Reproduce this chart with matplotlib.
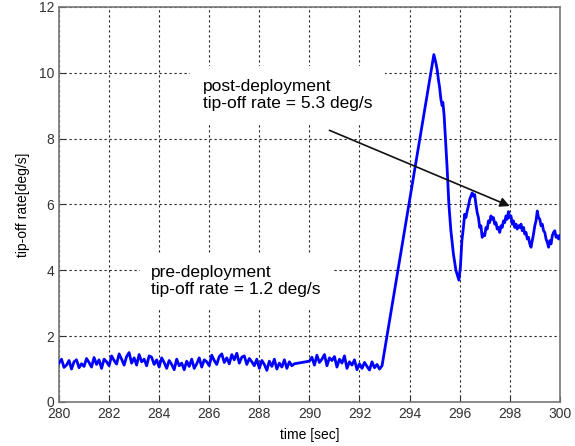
import numpy as np
import matplotlib.pyplot as plt

plt.rcParams['font.family'] = ['Liberation Sans', 'DejaVu Sans']

# pre-deployment samples, 0.1 s apart
pre_start = 280.0
pre_a = [1.18, 1.30, 1.05, 1.12, 1.26, 1.00, 1.22, 1.28, 1.04, 1.16,
         1.08, 1.32, 1.20, 1.06, 1.35, 1.14, 1.28, 1.02, 1.30, 1.22,
         1.10, 1.40, 1.26, 1.15, 1.46, 1.30, 1.12, 1.38, 1.50, 1.18,
         1.34, 1.12, 1.44, 1.22, 1.30, 1.10, 1.40, 1.36, 1.14, 1.28,
         1.06, 1.34, 1.20, 1.02, 1.26, 1.14, 0.98, 1.30, 1.10, 1.18,
         0.98, 1.24, 1.08, 1.30, 1.02, 1.16, 1.34, 1.06, 1.28, 1.22,
         1.10, 1.42, 1.26, 1.14, 1.38, 1.46, 1.20, 1.34, 1.16, 1.44,
         1.28, 1.48, 1.18, 1.36, 1.40, 1.14, 1.32, 1.22, 1.10, 1.30,
         1.02, 1.26, 1.14, 0.96, 1.24, 1.08, 1.30, 1.00, 1.18, 1.06,
         1.28, 1.02, 1.22, 1.10, 1.16]
pre_start2 = 290.0
pre_b = [1.24, 1.36, 1.12, 1.42, 1.20, 1.30, 1.44, 1.10, 1.34, 1.26,
         1.38, 1.06, 1.30, 1.18, 1.40, 1.02, 1.22, 1.12, 1.28, 0.98,
         1.16, 1.02, 1.20, 1.08, 0.97, 1.22, 1.04, 1.14, 1.00, 1.10]

# deployment and after (irregular points)
post_t = [294.97,
          295.05, 295.1, 295.15, 295.2, 295.25, 295.3, 295.33, 295.38, 295.45,
          295.5, 295.57, 295.65, 295.75, 295.85, 295.97, 296.03, 296.09,
          296.15, 296.2, 296.25, 296.3, 296.35, 296.4, 296.45,
          296.5, 296.55, 296.6, 296.65, 296.7, 296.75, 296.8, 296.85, 296.9,
          296.95, 297.0, 297.05, 297.1, 297.15, 297.2, 297.25, 297.3, 297.35,
          297.4, 297.45, 297.5, 297.55, 297.6, 297.65, 297.7, 297.75, 297.8,
          297.85, 297.9, 297.95, 298.0, 298.05, 298.1, 298.15, 298.2, 298.25,
          298.3, 298.35, 298.4, 298.45, 298.5, 298.55, 298.6, 298.65, 298.7,
          298.75, 298.8, 298.85, 298.9, 298.95, 299.0, 299.05, 299.1, 299.15,
          299.2, 299.25, 299.3, 299.35, 299.4, 299.45, 299.5, 299.55, 299.6,
          299.65, 299.7, 299.75, 299.8, 299.85, 299.9, 299.95, 300.0]
post_v = [10.55,
          10.3, 10.1, 9.8, 9.55, 9.2, 9.0, 9.1, 8.7, 7.8,
          7.1, 6.0, 5.2, 4.5, 4.0, 3.7, 4.1, 4.9,
          5.3, 5.7, 5.6, 5.8, 5.95, 6.15, 6.25,
          6.35, 6.25, 6.3, 6.0, 5.75, 5.6, 5.3, 5.35, 5.0,
          5.1, 5.05, 5.3, 5.25, 5.5, 5.45, 5.65, 5.55, 5.6,
          5.4, 5.45, 5.25, 5.3, 5.15, 5.35, 5.3, 5.5, 5.45,
          5.65, 5.55, 5.78, 5.6, 5.65, 5.4, 5.5, 5.3, 5.4,
          5.25, 5.35, 5.3, 5.4, 5.2, 5.3, 5.1, 5.15, 4.95,
          5.0, 4.8, 4.7, 4.9, 5.1, 5.35, 5.5, 5.8, 5.6,
          5.55, 5.35, 5.4, 5.2, 5.15, 4.95, 4.85, 4.7, 4.9,
          4.8, 5.05, 5.15, 5.2, 5.0, 5.05, 4.95, 5.05]

t = np.concatenate([pre_start + 0.1 * np.arange(len(pre_a)),
                    pre_start2 + 0.1 * np.arange(len(pre_b)),
                    post_t])
v = np.concatenate([pre_a, pre_b, post_v])

fig = plt.figure(figsize=(5.75, 4.46), dpi=100)
ax = fig.add_axes([0.1026, 0.0987, 0.871, 0.886])

ax.plot(t, v, color='#0000ff', lw=2, zorder=3)

ax.set_xlim(280, 300)
ax.set_ylim(0, 12)
ax.set_xticks(np.arange(280, 301, 2))
ax.set_yticks(np.arange(0, 13, 2))
ax.grid(True, color='#222222', linestyle=(0, (2, 2.5)), lw=0.8)
ax.tick_params(direction='in', length=4, labelsize=10, colors='#333333')
for s in ax.spines.values():
    s.set_color('#777777')
    s.set_linewidth(1.2)

ax.set_xlabel('time [sec]', fontsize=10, labelpad=5)
ax.set_ylabel('tip-off rate[deg/s]', fontsize=10, labelpad=6)

# annotations with white boxes hiding the grid
ax.text(285.75, 9.33, 'post-deployment\ntip-off rate = 5.3 deg/s', fontsize=12.5,
        va='center', ha='left', zorder=4, linespacing=1.15,
        bbox=dict(facecolor='white', edgecolor='none', pad=9))
ax.text(283.67, 3.68, 'pre-deployment\ntip-off rate = 1.2 deg/s', fontsize=12.5,
        va='center', ha='left', zorder=4, linespacing=1.15,
        bbox=dict(facecolor='white', edgecolor='none', pad=8))
ax.annotate('', xy=(298.0, 5.95), xytext=(290.8, 8.25), zorder=5,
            arrowprops=dict(arrowstyle='-|>', color='#111111', lw=1.2,
                            mutation_scale=14, shrinkA=0, shrinkB=0))

fig.savefig('out.png')
